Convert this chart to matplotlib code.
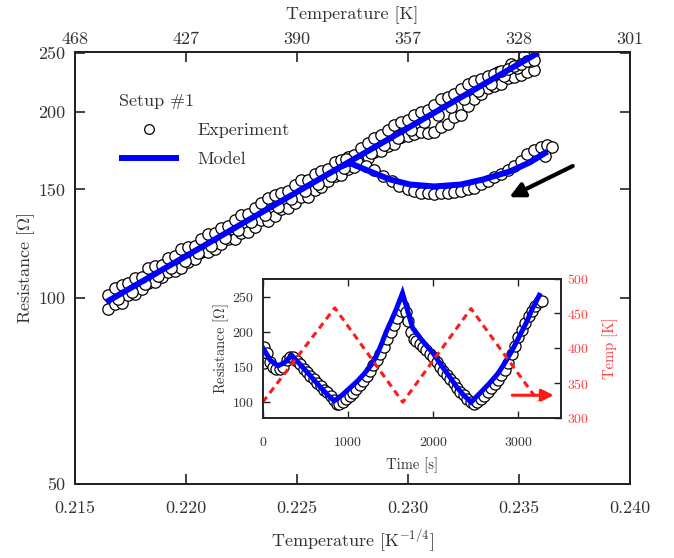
import matplotlib
matplotlib.use('Agg')
import matplotlib.pyplot as plt
from matplotlib.ticker import FixedLocator, NullLocator, FixedFormatter

plt.rcParams['font.family'] = ['cmr10', 'DejaVu Serif']
plt.rcParams['mathtext.fontset'] = 'cm'
plt.rcParams['axes.unicode_minus'] = False
plt.rcParams['axes.formatter.use_mathtext'] = True

TXT = '#333333'
SP = '#222222'

# ---------------- data: main panel ----------------
x_ticks = [0.215, 0.220, 0.225, 0.230, 0.235, 0.240]
x_tick_labels = ['0.215', '0.220', '0.225', '0.230', '0.235', '0.240']
temp_tick_labels = ['468', '427', '390', '357', '328', '301']
r_ticks = [50, 100, 150, 200, 250]
r_tick_labels = ['50', '100', '150', '200', '250']

exp_up_x = [0.2165, 0.2168, 0.2171, 0.2174, 0.2177, 0.2180, 0.2183, 0.2186, 0.2189, 0.2192,
            0.2195, 0.2198, 0.2201, 0.2204, 0.2207, 0.2210, 0.2213, 0.2216, 0.2219, 0.2222,
            0.2225, 0.2228, 0.2231, 0.2234, 0.2237, 0.2240, 0.2243, 0.2246, 0.2249, 0.2252,
            0.2255, 0.2258, 0.2261, 0.2264, 0.2267, 0.2270, 0.2273, 0.2276, 0.2279, 0.2282,
            0.2285, 0.2288, 0.2291, 0.2294, 0.2297, 0.2300, 0.2303, 0.2306, 0.2309, 0.2312,
            0.2315, 0.2318, 0.2321, 0.2324, 0.2327, 0.2330, 0.2333, 0.2336, 0.2339, 0.2342,
            0.2345, 0.2348, 0.2351, 0.2354, 0.2357]
exp_up_a = [101.0, 103.9, 105.0, 105.9, 107.9, 108.4, 111.7, 112.7, 113.2, 116.0,
            117.1, 120.0, 121.0, 121.6, 124.6, 127.0, 127.6, 130.1, 130.7, 133.9,
            136.5, 137.1, 139.8, 142.5, 145.3, 146.7, 148.0, 149.4, 152.3, 155.4,
            155.2, 159.0, 160.6, 162.1, 166.0, 167.6, 169.2, 170.8, 175.0, 178.4,
            181.8, 183.5, 187.1, 190.7, 192.6, 194.5, 198.2, 200.1, 202.0, 205.9,
            209.9, 211.9, 213.9, 218.1, 222.3, 224.4, 226.5, 228.7, 230.9, 233.0,
            235.3, 237.5, 239.7, 242.0, 243.0]
exp_up_b = [96.0, 97.9, 98.3, 101.2, 101.7, 103.6, 105.7, 106.1, 108.2, 110.3,
            110.8, 111.8, 114.6, 115.6, 118.6, 119.0, 120.1, 122.5, 124.9, 124.8,
            127.3, 127.8, 130.3, 133.6, 133.4, 136.0, 139.4, 140.0, 142.7, 145.6,
            146.1, 149.8, 151.2, 154.9, 158.0, 158.6, 161.8, 163.3, 167.3, 168.9,
            172.2, 172.9, 176.3, 177.9, 182.4, 183.1, 184.8, 185.6, 185.3, 185.9,
            189.6, 191.3, 196.2, 197.9, 205.1, 210.3, 214.4, 218.6, 220.7, 222.6,
            227.1, 228.0, 230.1, 232.2, 234.3]
exp_mid_x = [0.21665, 0.21695, 0.21725, 0.21755, 0.21785, 0.21815, 0.21845, 0.21875, 0.21905, 0.21935,
             0.21965, 0.21995, 0.22025, 0.22055, 0.22085, 0.22115, 0.22145, 0.22175, 0.22205, 0.22235,
             0.22265, 0.22295, 0.22325, 0.22355, 0.22385, 0.22415, 0.22445, 0.22475, 0.22505, 0.22535,
             0.22565, 0.22595, 0.22625, 0.22655, 0.22685, 0.22715, 0.22745, 0.22775, 0.22805, 0.22835,
             0.22865, 0.22895, 0.22925, 0.22955, 0.22985, 0.23015, 0.23045, 0.23075, 0.23105, 0.23135,
             0.23165, 0.23195, 0.23225, 0.23255, 0.23285, 0.23315, 0.23345, 0.23375, 0.23405, 0.23435,
             0.23465, 0.23495, 0.23525, 0.23555]
exp_mid_r = [101.2, 99.6, 104.2, 102.5, 107.1, 105.5, 110.3, 108.5, 113.5, 111.7,
             116.7, 115.0, 120.1, 118.3, 123.7, 121.7, 127.3, 125.3, 131.0, 129.0,
             134.8, 132.7, 138.7, 136.6, 142.8, 140.6, 146.9, 144.6, 151.2, 148.9,
             155.6, 153.2, 160.2, 157.6, 164.8, 162.2, 169.6, 167.0, 174.5, 171.8,
             179.6, 176.8, 184.8, 182.0, 190.2, 187.3, 195.8, 192.8, 201.5, 198.3,
             207.3, 204.1, 213.4, 210.0, 219.6, 216.2, 225.9, 222.4, 232.6, 228.9,
             239.3, 235.6, 246.3, 242.5]

exp_low_x = [0.2272, 0.2277, 0.2281, 0.2285, 0.2289, 0.2293, 0.2296, 0.2300, 0.2303, 0.2306,
             0.2309, 0.2312, 0.2315, 0.2318, 0.2321, 0.2324, 0.2327, 0.2330, 0.2333, 0.2336,
             0.2339, 0.2342, 0.2345, 0.2348, 0.2351, 0.2354, 0.2357, 0.2360, 0.2363, 0.2365,
             0.2362]
exp_low_r = [168, 166, 164, 161, 158, 155, 152, 150, 149, 148,
             148, 147.5, 148, 148, 148.5, 149, 150, 151, 153, 155,
             157, 159, 161, 164, 167, 171, 174, 176, 177, 176,
             170]

model_up_x = [0.2164, 0.2359]
model_up_r = [98.5, 250.0]
model_low_x = [0.2270, 0.2274, 0.2283, 0.2292, 0.2301, 0.2312, 0.2324, 0.2334, 0.2346, 0.2355, 0.2363]
model_low_r = [163.5, 165.5, 160.4, 155.7, 152.8, 151.7, 152.8, 155.7, 160.4, 165.9, 172.8]

arrow_tail = (0.23744, 163.7)
arrow_head = (0.23458, 145.7)

# ---------------- data: inset ----------------
in_t_ticks = [0, 1000, 2000, 3000]
in_r_ticks = [100, 150, 200, 250]
in_T_ticks = [300, 350, 400, 450, 500]

in_exp_t = [0, 10, 20, 50, 80, 120, 160, 200, 240, 280, 320, 360, 400, 440, 480, 520, 560, 600,
            640, 680, 720, 760, 800, 840, 870, 900, 940, 980, 1020, 1060, 1100, 1140, 1180,
            1220, 1260, 1300, 1340, 1380, 1420, 1460, 1500, 1540, 1580, 1620, 1650, 1680, 1710,
            1740, 1770, 1800, 1840, 1880, 1920, 1960, 2000, 2040, 2080, 2120, 2160, 2200, 2240,
            2280, 2320, 2360, 2400, 2440, 2480, 2520, 2560, 2600, 2640, 2680, 2720, 2760, 2800,
            2840, 2880, 2920, 2960, 3000, 3040, 3080, 3120, 3160, 3200, 3240, 3280]
in_exp_r = [165, 155, 178, 170, 157, 150, 147, 146, 150, 160, 164, 163, 158, 153, 147, 142, 137, 132,
            127, 122, 117, 113, 108, 102, 97, 96, 100, 104, 108, 112, 118, 124, 130,
            137, 144, 152, 160, 168, 178, 190, 200, 210, 220, 230, 237, 228, 215,
            200, 190, 186, 182, 178, 174, 168, 163, 157, 150, 144, 138, 132, 126,
            120, 114, 109, 104, 99, 96, 100, 104, 108, 114, 119, 125, 131, 138,
            145, 155, 168, 180, 192, 203, 212, 222, 230, 237, 243, 244]

in_model_t = [0, 90, 180, 260, 340, 440, 550, 670, 770, 840, 930, 1020, 1110, 1200, 1270, 1330,
              1390, 1450, 1510, 1570, 1640, 1700, 1760, 1880, 2000, 2100, 2190, 2270, 2350, 2445,
              2550, 2660, 2760, 2850, 2930, 3010, 3090, 3165, 3245]
in_model_r = [177, 159, 151, 156, 166, 153, 138, 121.5, 108.5, 101, 109, 119, 129, 141, 152, 164,
              181, 200, 216, 233, 255, 230, 205, 186, 169, 151, 136, 122, 110, 99,
              112, 126, 140, 157, 174, 193, 212, 233, 252]

in_temp_t = [0, 846, 1644, 2444, 3230]
in_temp_k = [323, 458, 323, 457, 325]

temp_arrow_tail = (2928, 333)
temp_arrow_head = (3415, 333)

# ---------------- figure ----------------
fig = plt.figure(figsize=(6.74, 5.58), dpi=100)
ax = fig.add_axes([75 / 674, 1 - 484 / 558, 554.5 / 674, 431.5 / 558])

ax.set_yscale('log')
ax.set_xlim(0.215, 0.240)
ax.set_ylim(50, 250)

mk = dict(linestyle='none', marker='o', mfc='white', mec='black', ms=8.2, mew=0.9)
ax.plot(exp_up_x, exp_up_b, **mk)
ax.plot(exp_mid_x, exp_mid_r, **mk)
ax.plot(exp_up_x, exp_up_a, **mk)
exp_handle, = ax.plot(exp_low_x, exp_low_r, label='Experiment', **mk)
model_handle, = ax.plot(model_up_x, model_up_r, color='#0000ff', lw=4.3, solid_capstyle='butt', label='Model')
ax.plot(model_low_x, model_low_r, color='#0000ff', lw=4.3, solid_capstyle='butt')

ax.annotate('', xy=arrow_head, xytext=arrow_tail,
            arrowprops=dict(arrowstyle='-|>', color='black', lw=3, mutation_scale=22,
                            shrinkA=0, shrinkB=0))

ax.xaxis.set_major_locator(FixedLocator(x_ticks))
ax.xaxis.set_major_formatter(FixedFormatter(x_tick_labels))
ax.yaxis.set_major_locator(FixedLocator(r_ticks))
ax.yaxis.set_major_formatter(FixedFormatter(r_tick_labels))
ax.yaxis.set_minor_locator(NullLocator())
ax.xaxis.set_minor_locator(NullLocator())
ax.tick_params(axis='both', which='major', direction='in', length=7, width=1.2,
               colors=SP, labelcolor=TXT, labelsize=13, top=False, right=True)
ax.tick_params(axis='x', pad=12)
ax.tick_params(axis='y', pad=7)
for s in ax.spines.values():
    s.set_color(SP)
    s.set_linewidth(1.4)
ax.set_xlabel(r'Temperature [K$^{\mathrm{-1/4}}$]', fontsize=13, color=TXT, labelpad=8)
ax.set_ylabel(r'Resistance [$\Omega$]', fontsize=13, color=TXT, labelpad=1)

axt = ax.twiny()
axt.set_xlim(ax.get_xlim())
axt.xaxis.set_major_locator(FixedLocator(x_ticks))
axt.xaxis.set_major_formatter(FixedFormatter(temp_tick_labels))
axt.xaxis.set_minor_locator(NullLocator())
axt.tick_params(axis='x', direction='in', length=7, width=1.2, colors=SP, labelcolor=TXT,
                labelsize=13, pad=4)
axt.set_xlabel('Temperature [K]', fontsize=13, color=TXT, labelpad=9)
for s in axt.spines.values():
    s.set_color(SP)
    s.set_linewidth(1.4)

leg = ax.legend(handles=[exp_handle, model_handle], title='Setup #1', loc='upper left',
                bbox_to_anchor=((114 - 75) / 554.5, (484 - 88) / 431.5), frameon=False,
                fontsize=13, title_fontsize=13, numpoints=1, handlelength=3.3,
                handletextpad=1.0, labelspacing=0.75, borderpad=0.3, borderaxespad=0,
                markerscale=0.85, alignment='left')
for t in leg.get_texts():
    t.set_color(TXT)
leg.get_title().set_color(TXT)

# ---------------- inset ----------------
ins = fig.add_axes([262.7 / 674, 1 - 418.3 / 558, 298.3 / 674, 139.8 / 558])
ins.set_xlim(0, 3500)
ins.set_ylim(76, 276)
mk2 = dict(linestyle='none', marker='o', mfc='white', mec='black', ms=8.0, mew=0.9)
ins.plot(in_exp_t, in_exp_r, **mk2)
ins.plot(in_model_t, in_model_r, color='#0000ff', lw=3.6, solid_joinstyle='miter')
ins.xaxis.set_major_locator(FixedLocator(in_t_ticks))
ins.yaxis.set_major_locator(FixedLocator(in_r_ticks))
ins.tick_params(axis='both', direction='in', length=5, width=1.0, colors=SP, labelcolor=TXT,
                labelsize=10, top=True)
ins.tick_params(axis='x', pad=13)
ins.tick_params(axis='y', pad=6)
ins.set_xlabel('Time [s]', fontsize=10.5, color=TXT, labelpad=6)
ins.set_ylabel(r'Resistance [$\Omega$]', fontsize=10.5, color=TXT, labelpad=1)
for s in ins.spines.values():
    s.set_color(SP)
    s.set_linewidth(1.2)

inr = ins.twinx()
inr.set_ylim(300, 500)
inr.plot(in_temp_t, in_temp_k, color='#ff1a1a', lw=2.2, linestyle=(0, (2.2, 1.6)))
inr.yaxis.set_major_locator(FixedLocator(in_T_ticks))
inr.tick_params(axis='y', direction='in', length=5, width=1.0, colors=SP,
                labelcolor='#ff4040', labelsize=10, pad=4)
inr.set_ylabel('Temp [K]', fontsize=10.5, color='#ff4040', labelpad=10)
inr.annotate('', xy=temp_arrow_head, xytext=temp_arrow_tail,
             arrowprops=dict(arrowstyle='-|>', color='#ff1a1a', lw=2.2, mutation_scale=18,
                             shrinkA=0, shrinkB=0))
for s in inr.spines.values():
    s.set_color(SP)
    s.set_linewidth(1.2)

fig.savefig('out.png', dpi=100)
